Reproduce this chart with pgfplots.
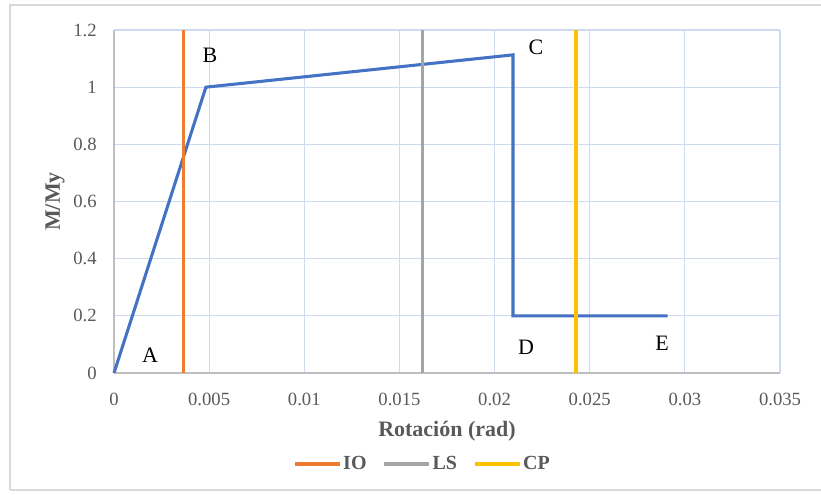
\documentclass[border=0pt]{standalone}
\usepackage{pgfplots}
\pgfplotsset{compat=1.18}
\usepackage{fontspec}
\setmainfont{Liberation Serif}
\definecolor{cblue}{HTML}{4472C4}
\definecolor{corange}{HTML}{ED7D31}
\definecolor{cgray}{HTML}{A5A5A5}
\definecolor{cgold}{HTML}{FFC000}
\definecolor{gridc}{RGB}{205,218,240}
\definecolor{axc}{RGB}{191,191,191}
\definecolor{txtc}{HTML}{595959}
\definecolor{framec}{RGB}{217,217,217}
\begin{document}
\begin{tikzpicture}[x=0.75pt,y=0.75pt]
% bounding box = whole image (px units, origin at plot-area bottom-left = px (114,373))
\path[use as bounding box] (-114,-122) rectangle (707,373);
\draw[framec, line width=1.5pt] (-104,-117.5) -- (-104,368) -- (720,368);
\draw[framec, line width=1.5pt] (-104,-117.5) -- (720,-117.5);
\begin{axis}[
  at={(0,0)}, anchor=south west,
  scale only axis, width=499.5pt, height=257.25pt,
  xmin=0, xmax=0.035, ymin=0, ymax=1.2,
  xtick={0,0.005,...,0.035}, ytick={0,0.2,...,1.2},
  xticklabels={0,0.005,0.01,0.015,0.02,0.025,0.03,0.035},
  yticklabels={0,0.2,0.4,0.6,0.8,1,1.2},
  scaled x ticks=false,
  grid=major, major grid style={gridc, line width=0.9pt},
  axis x line*=bottom, axis y line*=left,
  axis line style={-, axc, line width=1.4pt},
  major tick length=0pt,
  tick label style={font=\fontsize{14}{16}\selectfont, text=txtc},
  /pgf/number format/assume math mode=true,
  xticklabel style={anchor=north, inner sep=0pt, yshift=-15pt},
  yticklabel style={anchor=east, inner sep=0pt, xshift=-12.75pt},
  xlabel={Rotación (rad)},
  xlabel style={at={(axis description cs:0.5,0)}, anchor=base, yshift=-48pt, font=\bfseries\fontsize{16.5}{18}\selectfont, text=txtc},
  ylabel={M/My},
  ylabel style={at={(axis description cs:0,0.5)}, anchor=base, yshift=40.5pt, font=\bfseries\fontsize{16.5}{18}\selectfont, text=txtc},
  legend columns=3,
  legend style={at={(axis description cs:0.4632,0)}, anchor=center, yshift=-68.25pt, draw=none, fill=none,
    font=\bfseries\fontsize{15}{17}\selectfont, text=txtc,
    nodes={inner sep=1.5pt},
    /tikz/every odd column/.append style={column sep=0pt},
    /tikz/every even column/.append style={column sep=10.5pt},
    inner sep=0pt},
  legend image code/.code={\draw[#1] (0pt,0pt) -- (33.75pt,0pt);},
  clip=false,
]
\addplot[cblue, line width=2.3pt, forget plot] coordinates {(0,0) (0.00483,1) (0.02097,1.113) (0.02097,0.2) (0.0291,0.2)};
\addplot[corange, line width=2.3pt] coordinates {(0.00363,0) (0.00363,1.2)};
\addlegendentry{IO}
\addplot[cgray, line width=2.3pt] coordinates {(0.01619,0) (0.01619,1.2)};
\addlegendentry{LS}
\addplot[cgold, line width=2.3pt] coordinates {(0.02428,0) (0.02428,1.2)};
\addlegendentry{CP}
\node[font=\fontsize{16.5}{18}\selectfont] at (axis cs:0.0019,0.0635) {A};
\node[font=\fontsize{16.5}{18}\selectfont] at (axis cs:0.00504,1.113) {B};
\node[font=\fontsize{16.5}{18}\selectfont] at (axis cs:0.02218,1.141) {C};
\node[font=\fontsize{16.5}{18}\selectfont] at (axis cs:0.02165,0.091) {D};
\node[font=\fontsize{16.5}{18}\selectfont] at (axis cs:0.0288,0.105) {E};
\end{axis}
\end{tikzpicture}
\end{document}
